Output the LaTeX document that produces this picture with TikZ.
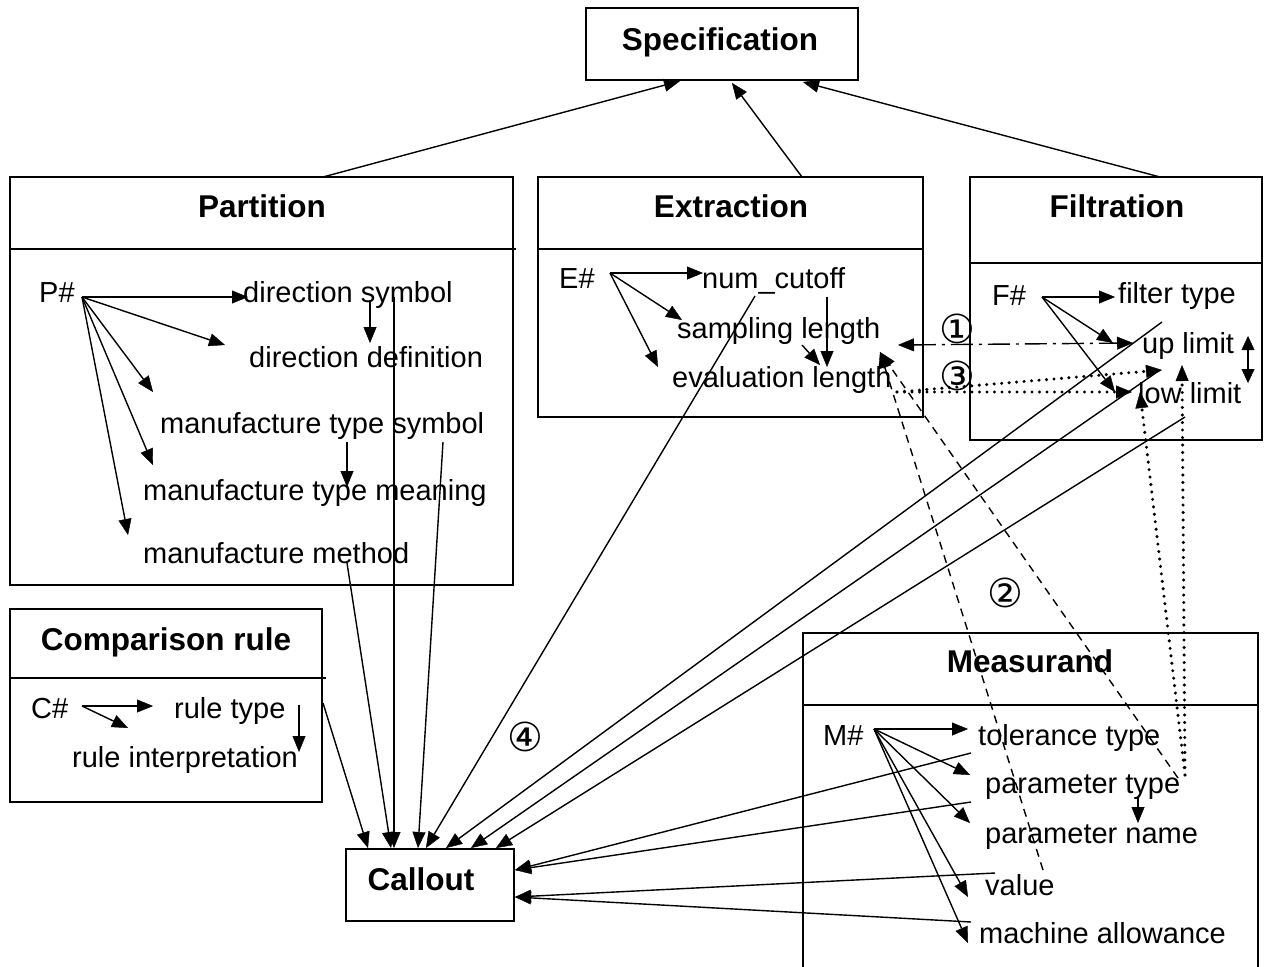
\documentclass[tikz,border=0pt]{standalone}
\usepackage{fontspec}
\setmainfont{Liberation Sans}
\newfontfamily\circfont{DejaVu Sans}
\usetikzlibrary{arrows.meta}
\begin{document}
\begin{tikzpicture}[x=1pt,y=-1pt,
  box/.style={draw,line width=1.6pt,inner sep=0pt},
  rule/.style={line width=1.6pt},
  ttl/.style={font=\fontsize{31.5}{36}\selectfont\bfseries,inner sep=0pt,text height=23pt,text depth=2pt},
  item/.style={font=\fontsize{29}{34}\selectfont,anchor=west,inner sep=0pt,text height=23pt,text depth=2pt},
  num/.style={font=\circfont\fontsize{40}{44}\selectfont,inner sep=0pt},
  head/.style={Triangle[length=16pt,width=13pt,line width=0.4pt]},
  tip/.style={-{Triangle[length=16pt,width=13pt,line width=0.4pt]}},
  link/.style={line width=1.4pt,tip},
  dashlink/.style={link,dash pattern=on 8pt off 6pt},
  dashdotlink/.style={line width=1.4pt,{Triangle[length=16pt,width=13pt,line width=0.4pt]}-{Triangle[length=16pt,width=13pt,line width=0.4pt]},dash pattern=on 22pt off 6pt on 3pt off 6pt},
  dotlink/.style={line width=3.4pt,line cap=round,dash pattern=on 0pt off 7.5pt,tip}
]
\useasboundingbox (0,0) rectangle (1265,966);

% ---------- boxes ----------
\node[box,minimum width=272pt,minimum height=72pt] (spec) at (722,44) {};
\node[ttl] (spectitle) at (720,40) {Specification};

\node[box,minimum width=503pt,minimum height=408pt] (part) at (261.5,381) {};
\draw[rule] (10,249) -- (516,249);
\node[ttl] (parttitle) at (262,207) {Partition};

\node[box,minimum width=385pt,minimum height=240pt] (extr) at (730.5,297) {};
\draw[rule] (538,249) -- (923,249);
\node[ttl] (extrtitle) at (731,207) {Extraction};

\node[box,minimum width=292pt,minimum height=263pt] (filt) at (1116,308.5) {};
\draw[rule] (970,263) -- (1262,263);
\node[ttl] (filttitle) at (1117,207) {Filtration};

\node[box,minimum width=312pt,minimum height=193pt] (comp) at (166,705.5) {};
\draw[rule] (10,678) -- (326,678);
\node[ttl] (comptitle) at (166,640) {Comparison rule};

\node[box,minimum width=168pt,minimum height=72pt] (call) at (430,885) {};
\node[ttl] (calltitle) at (421,880) {Callout};

\node[box,minimum width=455pt,minimum height=357pt] (meas) at (1030.5,811.5) {};
\draw[rule] (803,705) -- (1258,705);
\node[ttl] (meastitle) at (1030,662) {Measurand};

% ---------- Partition items ----------
\node[item] (P) at (39,292) {P\#};
\node[item] (dsym) at (243,292) {direction symbol};
\node[item] (ddef) at (249,357) {direction definition};
\node[item] (mts) at (160,423) {manufacture type symbol};
\node[item] (mtm) at (143,490) {manufacture type meaning};
\node[item] (mm) at (143,553) {manufacture method};

\coordinate (Po) at (82,297);
\draw[link] (Po) -- (248,297);
\draw[link] (Po) -- (225,345);
\draw[link] (Po) -- (153,392);
\draw[link] (Po) -- (153,465);
\draw[link] (Po) -- (128,535);
\draw[link] (370,300) -- (370,343);
\draw[link] (347,442) -- (347,487);

% ---------- Extraction items ----------
\node[item] (E) at (559,278) {E\#};
\node[item] (ncut) at (702,278) {num\_cutoff};
\node[item] (slen) at (677,328) {sampling length};
\node[item] (elen) at (672,377) {evaluation length};

\coordinate (Eo) at (610,273);
\draw[link] (Eo) -- (703,273);
\draw[link] (Eo) -- (682,320);
\draw[link] (Eo) -- (658,367);
\draw[link] (827,297) -- (827,367);
\draw[link] (802,345) -- (820,365);

% ---------- Filtration items ----------
\node[item] (F) at (992,295) {F\#};
\node[item] (ftype) at (1118,293) {filter type};
\node[item] (ulim) at (1142,343) {up limit};
\node[item] (llim) at (1138,393) {low limit};

\coordinate (Fo) at (1042,297);
\draw[link] (Fo) -- (1115,297);
\draw[link] (Fo) -- (1113,343);
\draw[link] (Fo) -- (1115,392);
\draw[line width=1.4pt,{Triangle[length=14pt,width=13pt,line width=0.4pt]}-{Triangle[length=14pt,width=13pt,line width=0.4pt]}] (1248,336) -- (1248,383);

% ---------- Comparison rule items ----------
\node[item] (C) at (31,708) {C\#};
\node[item] (rtype) at (174,708) {rule type};
\node[item] (rint) at (72,757) {rule interpretation};

\coordinate (Co) at (82,706);
\draw[link] (Co) -- (153,706);
\draw[link] (Co) -- (128,728);
\draw[link] (299,705) -- (299,752);

% ---------- Measurand items ----------
\node[item] (M) at (823,735) {M\#};
\node[item] (tol) at (978,735) {tolerance type};
\node[item] (ptype) at (985,783) {parameter type};
\node[item] (pname) at (985,833) {parameter name};
\node[item] (val) at (985,885) {value};
\node[item] (mall) at (979,933) {machine allowance};

\coordinate (Mo) at (874,729);
\draw[link] (Mo) -- (968,729);
\draw[link] (Mo) -- (970,775);
\draw[link] (Mo) -- (970,823);
\draw[link] (Mo) -- (968,897);
\draw[link] (Mo) -- (968,943);
\draw[link] (1138,798) -- (1138,823);

% ---------- links to Specification ----------
\draw[link] (323,177) -- (680,81);
\draw[link] (802,177) -- (732,83);
\draw[link] (1160,177) -- (803,82);

% ---------- links to Callout ----------
\draw[link] (323,703) -- (368,848);
\draw[link] (347,563) -- (391,848);
\draw[link] (394,297) -- (394,848);
\draw[link] (443,442) -- (418,848);
\draw[link] (755,296) -- (426,848);
\draw[link] (1162,322) -- (446,848);
\draw[link] (1160,370) -- (471,848);
\draw[link] (1185,417) -- (496,848);
\draw[link] (971,753) -- (515,870);
\draw[link] (971,802) -- (515,870);
\draw[link] (995,873) -- (515,897);
\draw[link] (971,922) -- (515,897);

% ---------- numbered relations ----------
\draw[dashdotlink] (898,345) -- (1133,343);
\node[num] (n1) at (957,329) {①};

\coordinate (Eend) at (897,392);
\draw[dotlink] (Eend) -- (1132,392);
\draw[dotlink] (Eend) -- (1162,370);
\node[num] (n3) at (957,376) {③};

\coordinate (Stip) at (880,352);
\draw[dashlink] (1043,870) -- (Stip);
\draw[dashlink] (1178,778) -- (Stip);
\node[num] (n2) at (1005,593) {②};

\coordinate (Pt) at (1185,775);
\draw[dotlink] (Pt) -- (1182,365);
\draw[dotlink] (Pt) -- (1140,392);

\node[num] (n4) at (525,737) {④};
\end{tikzpicture}
\end{document}
